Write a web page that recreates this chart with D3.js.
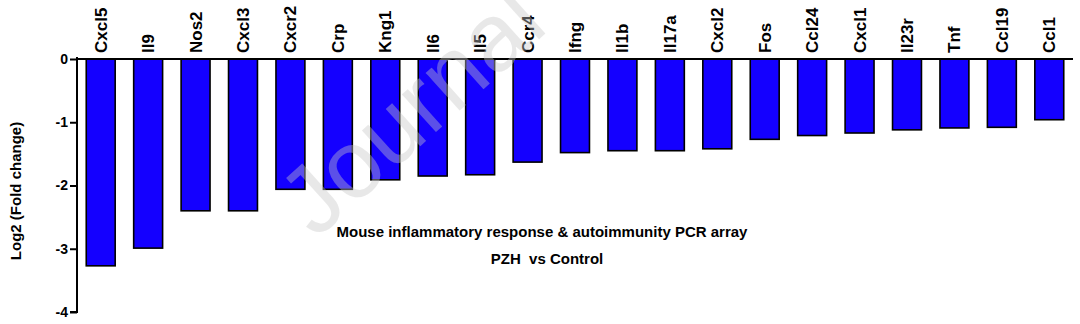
<html>
<head>
  <meta charset="utf-8">
  <title>PCR array</title>
  <script src="https://d3js.org/d3.v7.min.js"></script>
  <style>
    html, body { margin:0; padding:0; background:white; overflow:hidden }
    text { font-family: "Liberation Sans", Arial, sans-serif; font-weight: bold; }
  </style>
</head>
<body>
  <div class="chart"></div>
  <script>
    // genes and their log2 fold change
    var genes = ["Cxcl5","Il9","Nos2","Cxcl3","Cxcr2","Crp","Kng1","Il6","Il5","Ccr4","Ifng",
                 "Il1b","Il17a","Cxcl2","Fos","Ccl24","Cxcl1","Il23r","Tnf","Ccl19","Ccl1"];
    var log2fc = [-3.27,-2.99,-2.40,-2.40,-2.06,-2.06,-1.91,-1.85,-1.83,-1.63,-1.48,
                  -1.45,-1.45,-1.42,-1.27,-1.21,-1.17,-1.12,-1.09,-1.08,-0.96];
    var yTicks = [0,-1,-2,-3,-4];

    var W = 1080, H = 324;
    var svg = d3.select("div.chart").append("svg")
        .attr("width", W).attr("height", H);

    var x = d3.scaleBand().domain(genes).range([77, 1073]).paddingInner(0.39).paddingOuter(0.195);
    var y = d3.scaleLinear().domain([0, -4]).range([59, 312]);

    // bars
    svg.selectAll("rect.bar").data(genes).enter().append("rect")
      .attr("class","bar")
      .attr("x", function(d){ return x(d); })
      .attr("y", y(0))
      .attr("width", x.bandwidth())
      .attr("height", function(d,i){ return y(log2fc[i]) - y(0); })
      .attr("fill", "#1400ff")
      .attr("stroke", "#000")
      .attr("stroke-width", 1.6);

    // y axis
    var yAxis = svg.append("g").attr("transform","translate(77,0)")
      .call(d3.axisLeft(y).tickValues(yTicks).tickSize(7).tickPadding(2)
            .tickFormat(function(d){ return String(d); }));
    yAxis.select(".domain").attr("stroke-width",2).attr("d","M0,57V"+y(-4)+"H-7");
    yAxis.selectAll(".tick line").attr("stroke-width",2);
    yAxis.selectAll(".tick text").attr("font-size",14).attr("fill","#000")
      .style("font-family","'Liberation Sans', Arial, sans-serif").style("font-weight","bold");

    // zero line along top
    svg.append("line").attr("x1",77).attr("x2",1073).attr("y1",y(0)).attr("y2",y(0))
      .attr("stroke","#000").attr("stroke-width",2);

    // gene labels, rotated
    svg.selectAll("text.gene").data(genes).enter().append("text")
      .attr("class","gene")
      .attr("transform", function(d){ return "translate(" + (x(d) + x.bandwidth()/2 + 6) + ",53) rotate(-90)"; })
      .attr("font-size", 17)
      .text(function(d){ return d; });

    // y title
    svg.append("text")
      .attr("transform","translate(21,191) rotate(-90)")
      .attr("text-anchor","middle")
      .attr("font-size",15)
      .text("Log2 (Fold change)");

    svg.append("text").attr("x",542).attr("y",237).attr("text-anchor","middle")
      .attr("font-size",15).text("Mouse inflammatory response & autoimmunity PCR array");
    svg.append("text").attr("x",547).attr("y",264).attr("text-anchor","middle")
      .attr("font-size",15).style("white-space","pre").text("PZH  vs Control");

    // faint watermark, runs off the top edge like in the source
    svg.append("text")
      .attr("transform","translate(316,240) rotate(-42)")
      .attr("font-size",96)
      .style("font-weight","normal")
      .attr("fill","#c8c8c8").attr("opacity",0.4)
      .text("Journal");
  </script>
</body>
</html>
